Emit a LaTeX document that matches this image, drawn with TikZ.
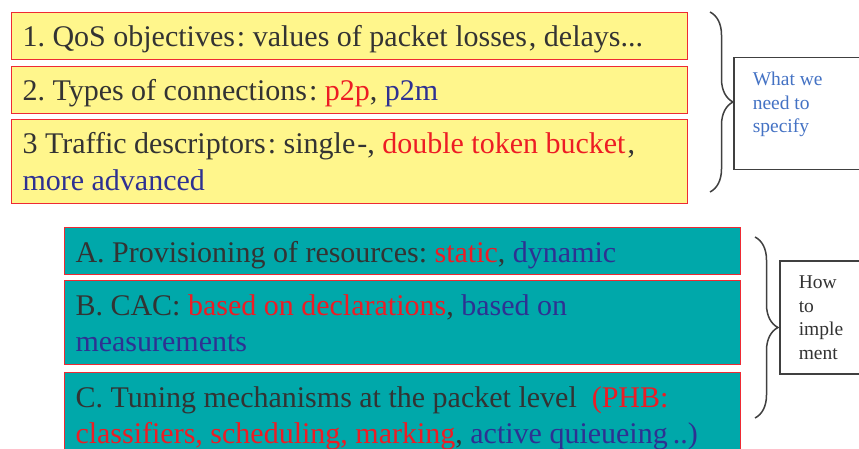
\documentclass[tikz,border=0pt]{standalone}
\usepackage{xcolor}
\usepackage{fontspec}
\setmainfont{Liberation Serif}
\usetikzlibrary{decorations.pathreplacing}

\definecolor{txtgray}{HTML}{333333}
\definecolor{hired}{HTML}{ED1C24}
\definecolor{hiblue}{HTML}{2E3192}
\definecolor{sideblue}{HTML}{4472C4}
\definecolor{boxyellow}{HTML}{FFF68C}
\definecolor{boxteal}{HTML}{00A8AA}
\definecolor{boxline}{HTML}{EE2A33}
\definecolor{bracegray}{HTML}{404040}

\newcommand{\redtxt}[1]{\textcolor{hired}{#1}}
\newcommand{\bluetxt}[1]{\textcolor{hiblue}{#1}}

\begin{document}
\frenchspacing
\begin{tikzpicture}[x=1pt,y=-1pt,
    item/.style={draw=boxline,line width=1pt,anchor=north west,inner xsep=11pt,inner ysep=0pt,
      text width=654pt,align=flush left,text=txtgray,text height=34.5pt,
      font=\fontsize{30}{36}\selectfont},
    side/.style={draw=bracegray,line width=1.5pt,fill=white,anchor=north west,inner xsep=19pt,inner ysep=0pt,
      text width=120pt,align=flush left,text height=28pt,font=\fontsize{19.5}{23.5}\selectfont},
    curly/.style={draw=bracegray,line width=1.5pt,decorate,decoration={brace,amplitude=23pt}}]
    \clip (0,0) rectangle (859,449);
    \fill[white] (0,0) rectangle (859,449);

    \node[item,fill=boxyellow,text depth=12.5pt] (n1) at (11,12)
      {1. QoS objectives\kern2pt: values of packet losses\kern2pt, delays...};
    \node[item,fill=boxyellow,text depth=12.5pt] (n2) at (11,66)
      {2. Types of connections\kern2pt: \redtxt{p2p}, \bluetxt{p2m}};
    \node[item,fill=boxyellow,text depth=49.5pt] (n3) at (11,119)
      {3 Traffic descriptors\kern2pt: single\kern2pt-, \redtxt{double token bucket}\kern2pt,\\ \bluetxt{more advanced}};

    \node[item,fill=boxteal,text depth=12.5pt] (nA) at (64,227)
      {A. Provisioning of resources: \redtxt{static}, \bluetxt{dynamic}};
    \node[item,fill=boxteal,text depth=49.5pt] (nB) at (64,280)
      {B. CAC: \redtxt{based on declarations}, \bluetxt{based on}\\ \bluetxt{measurements}};
    \node[item,fill=boxteal,text depth=60pt] (nC) at (64,372)
      {C. Tuning mechanisms at the packet level\ \ \redtxt{(PHB:}\\ \redtxt{classifiers, scheduling, marking}, \bluetxt{active quieueing\kern5pt..)}};

    \node[side,text=sideblue,text depth=84pt] (spec) at (733,57) {What we\\ need to\\ specify};
    \node[side,text=txtgray,text depth=85pt] (impl) at (779,260) {How\\ to\\ imple\\ ment};

    \coordinate (s1) at (710,12);
    \coordinate (e1) at (710,192);
    \coordinate (s2) at (755,237);
    \coordinate (e2) at (755,418);
    \draw[curly] (s1) -- (e1);
    \draw[curly] (s2) -- (e2);
\end{tikzpicture}
\end{document}
